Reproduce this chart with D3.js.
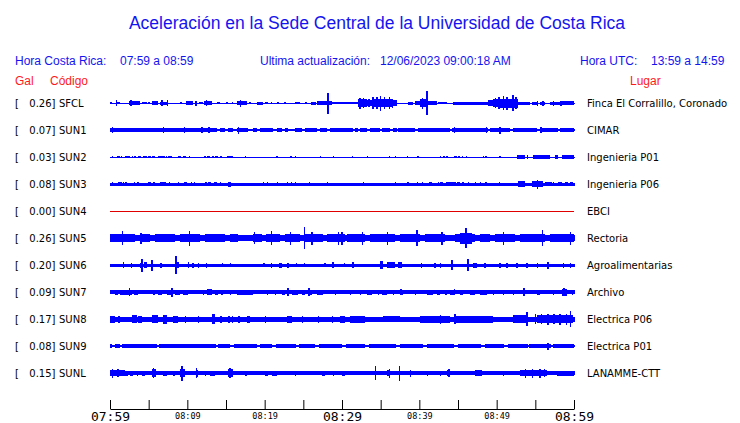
<!DOCTYPE html>
<html><head><meta charset="utf-8">
<script src="https://cdn.jsdelivr.net/npm/d3@7"></script>
<style>
html,body{margin:0;padding:0;background:#fff;}
svg{display:block;}
</style></head>
<body>
<svg id="chart" width="740" height="423"></svg>
<script>
// ---------------- DATA ----------------
const codes = ["SFCL","SUN1","SUN2","SUN3","SUN4","SUN5","SUN6","SUN7","SUN8","SUN9","SUNL"];
const galValues = [0.26,0.07,0.03,0.08,0.00,0.26,0.20,0.09,0.17,0.08,0.15];
const places = ["Finca El Corralillo, Coronado","CIMAR","Ingenieria P01","Ingenieria P06","EBCI","Rectoria","Agroalimentarias","Archivo","Electrica P06","Electrica P01","LANAMME-CTT"];
const tickMinutes = [0,5,10,15,20,25,30,35,40,45,50,55,60];   // minutes after 07:59
const tickLabels = ["07:59","","08:09","","08:19","","08:29","","08:39","","08:49","","08:59"];
// background amplitude of each trace (relative units)
const baseAmp = [0.5,1.3,0.5,1.5,0,3.3,1.5,1.6,2.5,1.0,1.7];
// bursts: [start minute, end minute, amplitude]
const burstsSFCL = [[0,0.3,1.3],[0.9,1.3,1.3],[2.5,3.9,1.7],[4.1,4.8,1.3],[4.9,5.2,1.3],[5.4,6.2,1.7],[6.5,7.5,1.5],[9.1,9.2,1],[9.8,10.7,1.7],[11.5,12,1.3],[12.2,13.2,1.7],[13.8,14.2,1.3],[16.4,17.7,1.7],[18,18.2,1.3],[19,19.8,1.5],[20,20.4,1.3],[23.9,24.6,1.3],[25.2,25.5,1.3],[26,26.6,1.5],[26.8,28.1,1.7],[28.3,28.7,2],[28.7,32.1,1.4],[32.1,33.2,3.8],[33.2,33.9,2.8],[33.9,36.6,4.2],[36.6,37.1,2.8],[38.5,39.2,1.5],[39.4,40.1,2],[40.1,40.9,4.2],[41.1,42.3,2],[42.4,43.6,1.3],[44.4,48.9,1.5],[48.9,49.5,2.8],[49.5,50.4,3.6],[50.4,52.8,4.5],[52.8,54.3,1.5],[54.6,55.2,1.5],[55.6,56.2,1.5],[56.9,58.2,1.5],[58.4,60,1.6]];
const burstsSUN1 = [[0,13.8,2],[14.2,14.9,2],[15.3,15.9,2],[16.4,17.8,2],[18.5,19,2],[19.4,21.1,2],[21.6,22.2,2],[22.6,23,2],[23.9,24.8,2],[25.2,26.8,2],[27.2,28.1,2],[28.4,31.4,2],[31.7,32.1,2],[32.3,33.2,2],[33.6,34.9,2],[35.2,36.2,2],[36.6,37.1,2],[37.2,39.4,2],[39.8,44,2],[44.2,48.9,2],[49.1,51.7,2],[52.1,55.2,2],[55.6,57.9,2],[58.2,60,2]];
const burstsSUN2 = [[0.2,0.4,1.3],[0.9,1.3,1.3],[1.4,1.6,1.3],[1.9,2.6,1.3],[2.8,3,1.3],[3.1,3.4,1.3],[3.6,4,1.3],[4.3,4.8,1.3],[4.9,5.3,1.3],[5.4,5.8,1.3],[6.2,7.1,1.3],[7.2,7.4,1.3],[7.5,7.7,1.3],[7.8,8,1.3],[8.8,9.2,1.3],[9.4,9.8,1.3],[10.2,10.4,1.3],[12.2,12.4,1.3],[12.5,12.9,1.3],[13.2,13.4,1.3],[13.6,14,1.3],[14.2,14.5,1.3],[15.1,15.9,1.3],[17.4,17.6,1.3],[21.5,21.7,1.3],[23.3,23.5,1.3],[23.9,24,1.3],[27.1,27.3,1.3],[28.8,28.9,1.3],[31.3,31.4,1.3],[33.2,33.3,1.3],[36.1,36.2,1.3],[36.8,36.9,1.3],[38.4,38.5,1.3],[39.7,40,1.3],[42.7,42.8,1.3],[43.1,43.2,1.3],[43.4,43.7,1.3],[44.5,44.9,1.3],[45,45.3,1.3],[45.5,45.7,1.3],[46,46.1,1.3],[48.2,48.3,1.3],[48.5,48.8,1.3],[50.3,50.6,1.3],[52.6,53.7,1.7],[53.9,54.1,1.7],[54.7,55.6,1.7],[55.6,56.9,1.7],[57.5,57.9,1.7],[58.4,60,1.7]];
const burstsSUN3 = [[0.2,0.4,2.2],[1,1.6,2.2],[1.7,1.8,2.2],[2,2.2,2.2],[3.1,3.2,2.2],[3.5,3.7,2.2],[4.9,5,2.2],[5.1,5.3,2.2],[5.6,5.8,2.2],[6.5,7.3,2.2],[7.6,7.7,2.2],[8.8,8.9,2.2],[9.6,9.9,2.2],[10.5,10.6,2.2],[10.8,11,2.2],[12.3,12.6,2.2],[12.7,13.1,2.2],[13.4,13.8,2.2],[14.2,14.3,2.2],[15.3,15.7,2.5],[19.8,19.9,2.2],[20.3,20.4,2.2],[21.6,21.7,2.2],[22.9,23,2.2],[23.4,23.5,2.2],[23.9,24,2.2],[25.7,25.8,2.2],[28,28.1,2.2],[32.7,32.8,2.2],[36.8,36.9,2.2],[38.4,38.6,2.2],[39.7,39.8,2.2],[40.3,40.4,2.2],[41.2,41.6,2.2],[42.4,42.5,2.2],[42.7,43.1,2.2],[43.4,44.8,2.2],[44.9,45.3,2.2],[45.5,45.8,2.2],[46.3,46.4,2.2],[47.2,47.3,2.2],[47.8,47.9,2.2],[48.5,48.8,2.2],[50.3,50.4,2.2],[52.8,53.7,3],[54.6,56,3.3],[56.2,57.2,2.2],[57.3,57.4,2.2],[57.9,58.4,2.2],[58.8,59.2,2.2],[59.5,59.9,2.2]];
const burstsSUN4 = [];
const burstsSUN5 = [[0,3.2,4.3],[3.9,5.2,4.3],[5.8,8.4,4.3],[9.1,11.6,4.3],[12.3,14.9,4.3],[15.5,16.6,4.3],[18.5,19.7,4.3],[20.2,22,4.3],[22.6,24.6,4.3],[25.2,27.5,4.3],[28.1,30.4,4.3],[30.6,33,4.3],[33.6,36.8,4.3],[37.5,40.1,4.3],[40.7,43.3,4.3],[44.6,47.2,4.3],[45.3,46.8,5.5],[47.8,49.1,4.3],[49.8,52.4,4.3],[53,56.3,4.3],[56.9,60,4.3]];
const burstsSUN6 = [[4.6,4.8,3],[10.1,10.2,2.7],[21.9,22.2,2.5],[34.9,35.3,4],[35.8,36.9,3],[37.2,37.8,3],[46.9,47.5,2.5]];
const burstsSUN7 = [[0.6,1,2.5],[1.3,2.8,2.5],[3.1,3.6,2.5],[5.6,5.8,2.5],[6.2,6.7,2.5],[7.4,8.1,2.5],[8.4,9.1,2.5],[9.4,10.1,2.5],[12,12.2,2.5],[12.5,13.2,3],[13.6,14,2.5],[14.4,14.6,2.5],[15.5,15.6,2.5],[16.4,18.5,2.5],[20.3,20.4,2.5],[21.3,21.4,2.5],[22.2,22.6,2.5],[23.5,24.3,2.5],[24.8,25.2,2.5],[25.6,26.1,2.5],[26.8,27.5,2.5],[29.1,29.2,2.5],[31,31.1,2.5],[32.3,32.4,2.5],[33.2,33.9,2.5],[34.6,34.7,2.5],[35.2,35.8,2.5],[36.6,36.7,2.5],[37.5,37.9,2.5],[39.4,39.5,2.5],[41,41.8,2.5],[42.3,42.7,2.5],[43.3,43.6,2.5],[44,44.6,2.5],[45.3,45.6,2.5],[46.5,47.2,2.5],[47.8,48.7,2.5],[49.5,49.6,2.5],[50.8,50.9,2.5],[52.1,52.2,2.5],[53.4,53.5,2.5],[55.2,55.6,2.5],[57.3,57.4,2.5],[58.4,59.1,3.5],[59.7,59.8,2.5]];
const burstsSUN8 = [[0,0.6,3.5],[1,1.3,3.5],[2.8,3.5,4],[3.6,4.1,3.5],[5.4,6.2,4],[6.9,7.4,4.5],[8.1,8.8,3.5],[9.7,9.8,3.5],[11.4,11.5,3.5],[13.2,13.6,5],[14.2,14.5,3.5],[15.3,15.4,3.5],[15.8,15.9,3.5],[16.6,16.7,3.5],[17.7,18.1,3.5],[20,20.1,3.5],[22.9,23.5,3.5],[24.8,24.9,3.5],[26.9,27,3.5],[28.7,28.8,3.5],[29.7,30.4,3.5],[31,33,3.5],[35.3,37.5,3.2],[40.1,44,3.5],[44.6,49.5,3.5],[52.1,53.9,4],[55.2,59.9,4.2]];
const burstsSUN9 = [[0,0.3,1.6],[0.7,1.3,1.6],[1.6,6.1,1.6],[6.3,13.7,1.6],[14,15.5,1.6],[16,19,1.6],[19.4,21,1.6],[21.5,24,1.6],[24.5,26.5,1.6],[27,30,1.6],[30.5,33,1.6],[33.5,37,1.6],[37.5,40.5,1.6],[41,44.5,1.6],[45,48,1.6],[48.5,51,1.6],[51.5,54,1.6],[54.5,57,1.6],[57.3,60,1.6],[59.2,59.9,2.4]];
const burstsSUNL = [[0,2,3],[1.9,2.3,2.5],[2.6,3,2.5],[3.5,3.6,2.5],[4.1,4.5,2.5],[5.4,5.9,4],[6.9,7.4,2.5],[8.1,8.4,2.5],[9.1,9.7,4],[11.2,11.4,3.5],[12.3,12.4,2.5],[12.9,13.6,2.5],[15.3,15.9,4],[17.5,17.7,2.5],[20,20.4,2.5],[20.9,21.6,2.5],[23.9,24,2.5],[27.4,27.8,2.5],[28.8,28.9,2.5],[30,30.4,2.5],[35.8,36.2,3],[38.8,38.9,3.5],[41,41.1,2.5],[42.7,42.8,2.5],[43.6,44,3],[47.2,48.1,3],[50.8,50.9,2.5],[53,56.5,3.3],[57.8,60,2.5]];
// spikes: [minute, amplitude]
const spikesSFCL = [[0.8,3],[2.7,3],[6.7,2.7],[7.4,2.7],[11.1,2.5],[12.5,3],[15.1,1.3],[15.8,1.3],[16.9,3.5],[20.9,1.3],[21.7,1.3],[22.6,1.3],[28.2,10.5],[32.3,5.5],[32.8,5],[33.5,4],[34,6],[34.5,6],[35,7.5],[35.5,6],[36.1,6],[36.5,4.5],[40.4,5.5],[41,11.7],[49.8,5],[50.3,6],[50.9,7],[51.3,6.5],[52.1,8],[52.5,6],[55.3,2.5],[56,2.5],[57.3,2.5],[58.3,2.5]];
const spikesSUN1 = [[0.3,3],[6.9,2.7],[9.6,2.7],[11.9,3],[12.8,3.3],[16.6,3.5],[44.5,3],[48.7,3],[50.4,3.5],[55.7,3]];
const spikesSUN2 = [];
const spikesSUN3 = [[55.3,4.5]];
const spikesSUN4 = [];
const spikesSUN5 = [[1.6,6.7],[4,5.5],[10.3,7.5],[18.7,6],[20.9,7],[23.3,6.5],[25.1,11],[26.1,6.5],[29.5,6.5],[30,6.5],[32.6,6.5],[35.9,6.5],[39.7,8],[42.9,6.5],[46,10],[50.9,6.5],[55.9,8],[59.5,6.5]];
const spikesSUN6 = [[1.7,3],[2.8,2.5],[3.9,2.5],[4.1,6.5],[4.5,3],[5.4,5.5],[6.6,2.5],[8.5,9],[8.8,3],[10.7,2.5],[11.4,2.5],[12.5,2.5],[14.5,2.2],[15.6,2.2],[19.9,2.2],[20.9,2.5],[23,2.5],[24.1,2.2],[25.1,2.2],[27.8,2.2],[28.8,3],[30.3,2.2],[31.4,3],[40.3,2.5],[42,2.5],[42.7,2.5],[44.2,5],[46.3,6],[48.5,2.5],[50.4,2.5],[51.3,2.5],[52.6,2.5],[53.9,2.5],[55.3,2.5],[56.6,3.5],[58.6,2.5],[59.5,2.5]];
const spikesSUN7 = [[2.5,4],[8,4.5],[23,4],[25.7,4],[37.6,3.3],[44.5,3.3],[53.5,4],[58.7,4]];
const spikesSUN8 = [[42.7,4.5],[44.6,5],[53.9,7],[55,5],[55.8,5],[56.6,5.5],[57.4,5],[58.2,5.5],[59,5.5],[59.5,8]];
const spikesSUN9 = [[53,2.2],[54.3,2.2],[56.6,3.5]];
const spikesSUNL = [[0.3,4.5],[1,4],[5.6,5],[9.3,7.5],[11.2,5],[15.5,5],[34.3,7],[36.1,4.5],[37.4,7.5],[43.8,4],[53.7,4.5],[54.6,4.5],[55.6,4.5],[56.2,4]];

const allBursts = [burstsSFCL,burstsSUN1,burstsSUN2,burstsSUN3,burstsSUN4,burstsSUN5,burstsSUN6,burstsSUN7,burstsSUN8,burstsSUN9,burstsSUNL];
const allSpikes = [spikesSFCL,spikesSUN1,spikesSUN2,spikesSUN3,spikesSUN4,spikesSUN5,spikesSUN6,spikesSUN7,spikesSUN8,spikesSUN9,spikesSUNL];

// ---------------- CHART ----------------
const BLUE_TXT = "#1414f0", RED_TXT = "#ff1a1a", TRACE = "#0000ff";
const svg = d3.select("#chart");
const START = new Date(2023, 5, 12, 7, 59, 0);
const tm = m => new Date(START.getTime() + m * 60000);
const x = d3.scaleTime().domain([tm(0), tm(60)]).range([110, 574]);
const row = d3.scalePoint().domain(codes).range([103, 373]);
const amp = d3.scaleLinear().domain([-12, 12]).range([12, -12]);

// header
svg.append("text").attr("x", 377).attr("y", 29).attr("text-anchor", "middle")
  .attr("font-family", "Liberation Sans, Arial, sans-serif").attr("font-size", 17.5)
  .attr("fill", BLUE_TXT).text("Aceleración en la Sede Central de la Universidad de Costa Rica");
const hdr = [
  [15, 65, "Hora Costa Rica:", BLUE_TXT],
  [120, 65, "07:59 a 08:59", BLUE_TXT],
  [260, 65, "Ultima actualización:", BLUE_TXT],
  [380, 65, "12/06/2023 09:00:18 AM", BLUE_TXT],
  [580, 65, "Hora UTC:", BLUE_TXT],
  [651, 65, "13:59 a 14:59", BLUE_TXT],
  [15, 84.5, "Gal", RED_TXT],
  [50, 84.5, "Código", RED_TXT],
  [630, 84.5, "Lugar", RED_TXT]
];
svg.selectAll("text.hdr").data(hdr).join("text").attr("class", "hdr")
  .attr("x", d => d[0]).attr("y", d => d[1]).attr("fill", d => d[3])
  .attr("font-family", "Liberation Sans, Arial, sans-serif").attr("font-size", 12)
  .text(d => d[2]);

// rows
const rows = svg.selectAll("g.row").data(codes).join("g").attr("class", "row")
  .attr("transform", d => `translate(0,${row(d)})`);

const lblFont = "DejaVu Sans, sans-serif";
rows.append("text").attr("x", 15).attr("y", 3.8).attr("font-family", lblFont).attr("font-size", 10).text("[");
rows.append("text").attr("x", 55.5).attr("y", 3.8).attr("text-anchor", "end").attr("font-family", lblFont).attr("font-size", 10)
  .text((d, i) => galValues[i].toFixed(2) + "]");
rows.append("text").attr("x", 59).attr("y", 3.8).attr("font-family", lblFont).attr("font-size", 10).text(d => d);
rows.append("text").attr("x", 587).attr("y", 3.8).attr("font-family", lblFont).attr("font-size", 10).text((d, i) => places[i]);

// traces
rows.each(function (code, i) {
  const g = d3.select(this).append("g").attr("shape-rendering", "crispEdges");
  const b = baseAmp[i];
  if (b === 0) {
    g.append("rect").attr("x", x(tm(0))).attr("width", x(tm(60)) - x(tm(0)))
      .attr("y", -0.5).attr("height", 1).attr("fill", "#e00000");
    return;
  }
  g.append("rect").attr("x", x(tm(0))).attr("width", x(tm(60)) - x(tm(0)) + 1)
    .attr("y", amp(b)).attr("height", Math.max(1, amp(-b) - amp(b))).attr("fill", TRACE);
  g.selectAll("rect.burst").data(allBursts[i]).join("rect").attr("class", "burst")
    .attr("x", d => x(tm(d[0])))
    .attr("width", d => Math.max(1.2, x(tm(d[1])) - x(tm(d[0]))))
    .attr("y", d => amp(d[2])).attr("height", d => amp(-d[2]) - amp(d[2]))
    .attr("fill", TRACE);
  g.selectAll("rect.spike").data(allSpikes[i]).join("rect").attr("class", "spike")
    .attr("x", d => x(tm(d[0])) - 0.6).attr("width", 1.4)
    .attr("y", d => amp(d[1])).attr("height", d => amp(-d[1]) - amp(d[1]))
    .attr("fill", TRACE);
});

// time axis
const axis = d3.axisBottom(x)
  .tickValues(tickMinutes.map(tm))
  .tickSizeInner(-9).tickSizeOuter(0)
  .tickFormat((d, i) => tickLabels[i]);
const ax = svg.append("g").attr("transform", "translate(0,409)").call(axis);
ax.select(".domain").attr("stroke", "#000");
ax.selectAll(".tick line").attr("stroke", "#000");
ax.selectAll(".tick text")
  .attr("fill", "#000")
  .attr("font-family", "DejaVu Sans Mono, monospace")
  .attr("dy", null)
  .attr("font-size", (d, i) => (i % 6 === 0 ? 13 : 8.5))
  .attr("y", (d, i) => (i % 6 === 0 ? 12 : 9.5));
</script>
</body></html>
